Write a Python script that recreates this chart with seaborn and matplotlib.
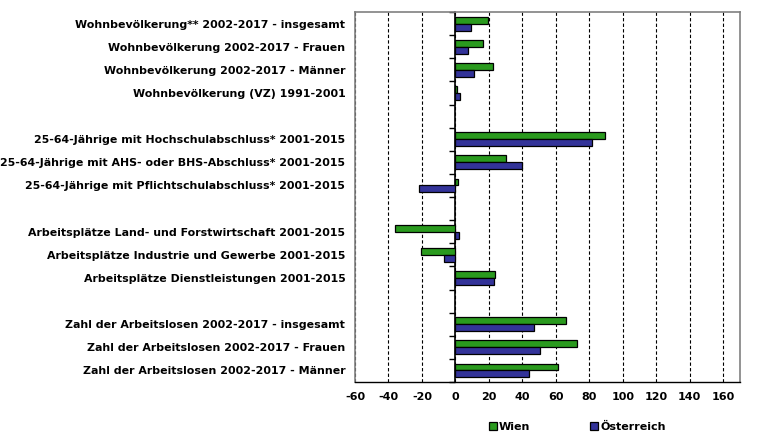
import matplotlib
matplotlib.use("Agg")
import matplotlib.pyplot as plt
import seaborn as sns
import pandas as pd

# ---- data ----
categories = [
    "Wohnbevölkerung** 2002-2017 - insgesamt",
    "Wohnbevölkerung 2002-2017 - Frauen",
    "Wohnbevölkerung 2002-2017 - Männer",
    "Wohnbevölkerung (VZ) 1991-2001",
    " ",
    "25-64-Jährige mit Hochschulabschluss* 2001-2015",
    "25-64-Jährige mit AHS- oder BHS-Abschluss* 2001-2015",
    "25-64-Jährige mit Pflichtschulabschluss* 2001-2015",
    "  ",
    "Arbeitsplätze Land- und Forstwirtschaft 2001-2015",
    "Arbeitsplätze Industrie und Gewerbe 2001-2015",
    "Arbeitsplätze Dienstleistungen 2001-2015",
    "   ",
    "Zahl der Arbeitslosen 2002-2017 - insgesamt",
    "Zahl der Arbeitslosen 2002-2017 - Frauen",
    "Zahl der Arbeitslosen 2002-2017 - Männer",
]
wien = [19.4, 16.4, 22.4, 1.2, None, 89.6, 30.5, 1.8, None, -35.9, -20.4, 23.4, None, 65.9, 72.7, 61.1]
oesterreich = [9.0, 7.8, 10.8, 3.0, None, 81.4, 39.8, -21.6, None, 2.4, -6.6, 22.8, None, 46.7, 50.3, 43.7]
series = ["Wien", "Österreich"]
xticks = [-60, -40, -20, 0, 20, 40, 60, 80, 100, 120, 140, 160]

rows = []
for c, w, o in zip(categories, wien, oesterreich):
    if w is not None:
        rows.append({"Kategorie": c, "Region": "Wien", "Wert": w})
    if o is not None:
        rows.append({"Kategorie": c, "Region": "Österreich", "Wert": o})
df = pd.DataFrame(rows)

sns.set_style("white")
plt.rcParams["font.family"] = ["DejaVu Sans"]
plt.rcParams["text.color"] = "black"
plt.rcParams["xtick.color"] = "black"
plt.rcParams["ytick.color"] = "black"

fig = plt.figure(figsize=(7.77, 4.42), dpi=100)
ax = fig.add_axes([355 / 777, 1 - 382 / 442, 385 / 777, 370 / 442])

sns.barplot(data=df, y="Kategorie", x="Wert", hue="Region", order=categories,
            hue_order=series, palette=["#2A9A1E", "#333399"], width=0.6,
            edgecolor="black", linewidth=0.9, orient="h", errorbar=None,
            saturation=1, ax=ax, zorder=3)

ax.set_xlim(-60, 170)
ax.set_ylim(len(categories) - 0.5, -0.5)
ax.set_xticks(xticks)
ax.set_xticklabels([str(t) for t in xticks], fontsize=8, fontweight="bold", color="black")
ax.set_yticks(range(len(categories)))
ax.set_yticklabels(categories, fontsize=7.9, fontweight="bold", color="black")
ax.tick_params(axis="y", length=0, pad=7)
ax.tick_params(axis="x", length=4, width=1, direction="out", color="black", pad=3)
ax.set_xlabel("")
ax.set_ylabel("")

ax.xaxis.grid(True, color="black", linestyle=(0, (3, 2)), linewidth=0.8)
ax.set_axisbelow(True)

for s in ["top", "right", "left"]:
    ax.spines[s].set_color("#808080")
    ax.spines[s].set_linewidth(1.2)
ax.spines["bottom"].set_color("black")
ax.spines["bottom"].set_linewidth(1)

# zero line with category boundary ticks
sec = ax.secondary_yaxis(60 / 230)
sec.set_yticks([i - 0.5 for i in range(len(categories) + 1)])
sec.set_yticklabels([])
sec.tick_params(length=4, width=1, direction="out", color="black")
sec.spines["left"].set_color("black")
sec.spines["left"].set_linewidth(1.2)

sns.move_legend(ax, loc="center", bbox_to_anchor=(0.578, -0.122), ncol=2,
                frameon=False, title=None, handlelength=0.7, handleheight=0.7,
                handletextpad=0.2, columnspacing=5.4,
                prop={"size": 8, "weight": "bold"})
for t in ax.get_legend().get_texts():
    t.set_color("black")

fig.savefig("out.png", dpi=100)
